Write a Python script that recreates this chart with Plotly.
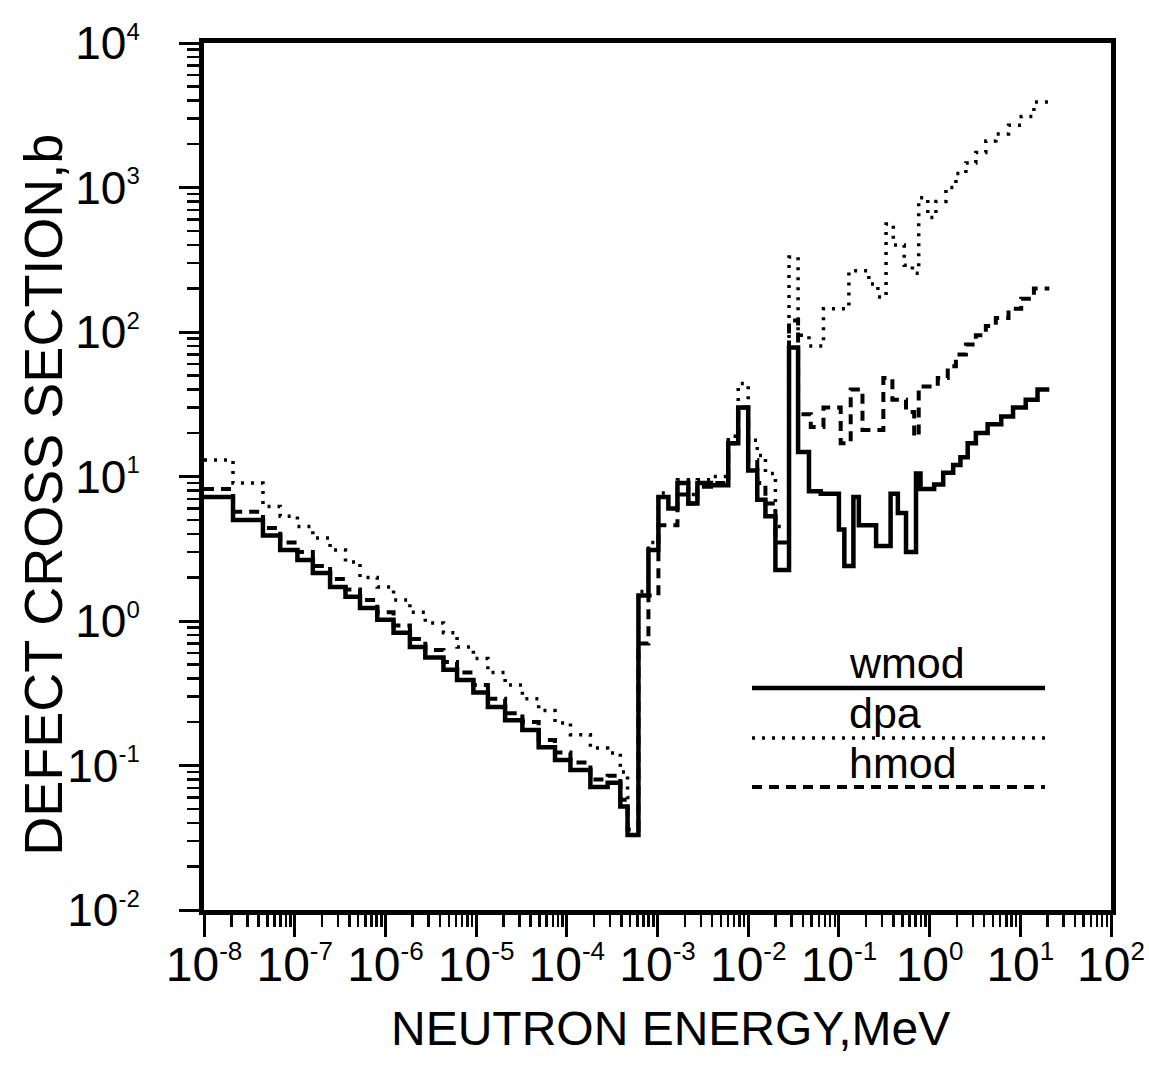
import plotly.graph_objects as go

# ---------------- data (log10 of neutron energy in MeV for group edges) ----------------
LOW_EDGES_LOG = [-8.0, -7.68, -7.35, -7.16, -6.97, -6.80, -6.61, -6.44, -6.28, -6.09,
                 -5.91, -5.73, -5.56, -5.36, -5.21, -5.03, -4.87, -4.68, -4.49, -4.31,
                 -4.13, -3.96, -3.74, -3.55, -3.41, -3.33, -3.21]
MID_EDGES_LOG = [-3.10, -2.99, -2.88, -2.78, -2.66, -2.56, -2.41, -2.22, -2.11, -2.00,
                 -1.90, -1.81, -1.70, -1.55, -1.45]

WMOD_HIGH_EDGES_LOG = [-1.33, -1.20, -1.00, -0.94, -0.84, -0.78, -0.59, -0.43, -0.35, -0.26,
                       -0.15, -0.10, 0.05, 0.15, 0.26, 0.34, 0.42, 0.51, 0.64, 0.79,
                       0.92, 1.06, 1.19, 1.32]
DPA_HIGH_EDGES_LOG = [-1.33, -1.17, -0.89, -0.67, -0.57, -0.48, -0.40, -0.28, -0.19, -0.12,
                      -0.02, 0.07, 0.18, 0.29, 0.40, 0.51, 0.62, 0.73, 0.87, 1.01,
                      1.15, 1.32]
HMOD_HIGH_EDGES_LOG = [-1.31, -1.17, -0.98, -0.87, -0.74, -0.51, -0.41, -0.26, -0.17, -0.12,
                       0.09, 0.20, 0.29, 0.40, 0.51, 0.62, 0.73, 0.87, 1.01, 1.15, 1.32]

# defect cross sections, barns (one value per group)
WMOD_LOW = [7.2, 5.0, 3.9, 3.1, 2.64, 2.15, 1.72, 1.47, 1.23, 1.02, 0.83, 0.66, 0.56,
            0.46, 0.39, 0.32, 0.254, 0.206, 0.176, 0.134, 0.109, 0.093, 0.071, 0.076,
            0.052, 0.033]
DPA_LOW = [13, 9.0, 6.2, 5.3, 4.5, 3.75, 3.1, 2.56, 2.0, 1.72, 1.4, 1.15, 0.97, 0.83,
           0.66, 0.55, 0.44, 0.36, 0.29, 0.24, 0.197, 0.163, 0.132, 0.122, 0.09, 0.06]
HMOD_LOW = [8.2, 5.7, 4.4, 3.5, 3.0, 2.4, 1.95, 1.65, 1.4, 1.15, 0.93, 0.75, 0.63, 0.52,
            0.44, 0.36, 0.29, 0.23, 0.2, 0.15, 0.123, 0.105, 0.08, 0.085, 0.058, 0.036]

WMOD_MID = [1.5, 3.1, 7.2, 6.0, 9.0, 6.5, 9.0, 8.7, 17, 30, 11, 6.9, 5.3, 2.25, 78]
DPA_MID = [1.6, 3.5, 7.7, 7.0, 9.5, 7.5, 9.5, 10, 19, 44, 17.8, 14, 10.5, 4.5, 330]
HMOD_MID = [0.7, 1.5, 4.6, 4.6, 7.5, 6.5, 8.5, 9, 17, 30, 13, 9, 6.5, 3.5, 120]

WMOD_HIGH = [14.8, 7.9, 7.6, 4.3, 2.4, 7.2, 4.6, 3.3, 7.6, 5.6, 3.0, 10.5, 8.2, 8.8,
             10.6, 12, 13.6, 17, 20, 23, 26, 30, 34, 40]
DPA_HIGH = [95, 80, 145, 265, 215, 175, 560, 400, 290, 255, 850, 620, 800, 1000, 1250,
            1480, 1750, 2100, 2350, 2700, 3100, 3900]
HMOD_HIGH = [27, 22, 30, 17, 40, 21, 48, 34, 28, 19, 42, 48, 58, 70, 82, 95, 110, 125,
             145, 170, 200]

X_TICK_EXPONENTS = list(range(-8, 3))
Y_TICK_EXPONENTS = list(range(-2, 5))
MINOR_MULTIPLIERS = [2, 3, 4, 5, 6, 7, 8, 9]

SERIES_NAMES = ["wmod", "dpa", "hmod"]


def step_xy(edges_log, values):
    x = [10 ** e for e in edges_log]
    y = list(values) + [values[-1]]
    return x, y


wmod_x, wmod_y = step_xy(LOW_EDGES_LOG + MID_EDGES_LOG + WMOD_HIGH_EDGES_LOG,
                         WMOD_LOW + WMOD_MID + WMOD_HIGH)
dpa_x, dpa_y = step_xy(LOW_EDGES_LOG + MID_EDGES_LOG + DPA_HIGH_EDGES_LOG,
                       DPA_LOW + DPA_MID + DPA_HIGH)
hmod_x, hmod_y = step_xy(LOW_EDGES_LOG + MID_EDGES_LOG + HMOD_HIGH_EDGES_LOG,
                         HMOD_LOW + HMOD_MID + HMOD_HIGH)

FONT = "Liberation Sans, Arial, sans-serif"

fig = go.Figure()
fig.add_trace(go.Scatter(x=hmod_x, y=hmod_y, mode="lines", name=SERIES_NAMES[2],
                         line=dict(shape="hv", color="black", width=4, dash="10px,7px")))
fig.add_trace(go.Scatter(x=dpa_x, y=dpa_y, mode="lines", name=SERIES_NAMES[1],
                         line=dict(shape="hv", color="black", width=3.5, dash="3px,7px")))
fig.add_trace(go.Scatter(x=wmod_x, y=wmod_y, mode="lines", name=SERIES_NAMES[0],
                         line=dict(shape="hv", color="black", width=4.5)))


def power_label(e, sup_px):
    return "10<sup><span style='font-size:%dpx'>%d</span></sup>" % (sup_px, e)


x_tickvals = [10 ** e for e in X_TICK_EXPONENTS]
x_ticktext = [power_label(e, 26) for e in X_TICK_EXPONENTS]
y_tickvals = [10 ** e for e in Y_TICK_EXPONENTS]
y_ticktext = [power_label(e, 24) for e in Y_TICK_EXPONENTS]
x_minor = [m * 10 ** e for e in X_TICK_EXPONENTS[:-1] for m in MINOR_MULTIPLIERS]
y_minor = [m * 10 ** e for e in Y_TICK_EXPONENTS[:-1] for m in MINOR_MULTIPLIERS]

fig.update_xaxes(type="log", range=[-8, 2], showgrid=False, zeroline=False,
                 showline=True, linewidth=5, linecolor="black", mirror=True,
                 ticks="outside", ticklen=22, tickwidth=3, tickcolor="black",
                 tickmode="array", tickvals=x_tickvals, ticktext=x_ticktext,
                 tickangle=0, ticklabelstandoff=-14,
                 tickfont=dict(family=FONT, size=48, color="black"),
                 minor=dict(tickmode="array", tickvals=x_minor, ticks="outside",
                            ticklen=12, tickwidth=2.5, tickcolor="black", showgrid=False))
fig.update_yaxes(type="log", range=[-2, 4], showgrid=False, zeroline=False,
                 showline=True, linewidth=5, linecolor="black", mirror=True,
                 ticks="outside", ticklen=20, tickwidth=3, tickcolor="black",
                 tickmode="array", tickvals=y_tickvals, ticktext=y_ticktext,
                 tickangle=0, ticklabelstandoff=30,
                 tickfont=dict(family=FONT, size=46, color="black"),
                 minor=dict(tickmode="array", tickvals=y_minor, ticks="outside",
                            ticklen=12, tickwidth=2.5, tickcolor="black", showgrid=False))

annotations = [
    dict(text="NEUTRON ENERGY,MeV", x=0.514, y=-0.1372, xref="paper", yref="paper",
         xanchor="center", yanchor="middle", showarrow=False, borderpad=0,
         font=dict(family=FONT, size=48, color="black")),
    dict(text="DEFECT CROSS SECTION,b", x=-0.1775, y=0.479, xref="paper", yref="paper",
         xanchor="center", yanchor="middle", showarrow=False, textangle=-90,
         font=dict(family=FONT, size=54, color="black")),
]
legend_text_y = [0.2849, 0.2272, 0.1696]
legend_line_y = [0.2561, 0.1984, 0.1419]
legend_dash = ["solid", "3px,7px", "10px,7px"]
legend_width = [4.5, 3.5, 4]
shapes = []
for name, ty, ly, dsh, w in zip(SERIES_NAMES, legend_text_y, legend_line_y, legend_dash, legend_width):
    annotations.append(dict(text=name, x=0.710, y=ty, xref="paper", yref="paper",
                            xanchor="left", yanchor="middle", showarrow=False,
                            borderpad=0,
                            font=dict(family=FONT, size=43, color="black")))
    shapes.append(dict(type="line", xref="paper", yref="paper", x0=0.6042, x1=0.9272,
                       y0=ly, y1=ly, line=dict(color="black", width=w, dash=dsh)))

fig.update_layout(width=1149, height=1066, paper_bgcolor="white", plot_bgcolor="white",
                  margin=dict(l=204, r=38, t=43, b=156, autoexpand=False),
                  showlegend=False, annotations=annotations, shapes=shapes,
                  hovermode=False)

fig.write_html("out.html", config={"displayModeBar": False, "staticPlot": True})
